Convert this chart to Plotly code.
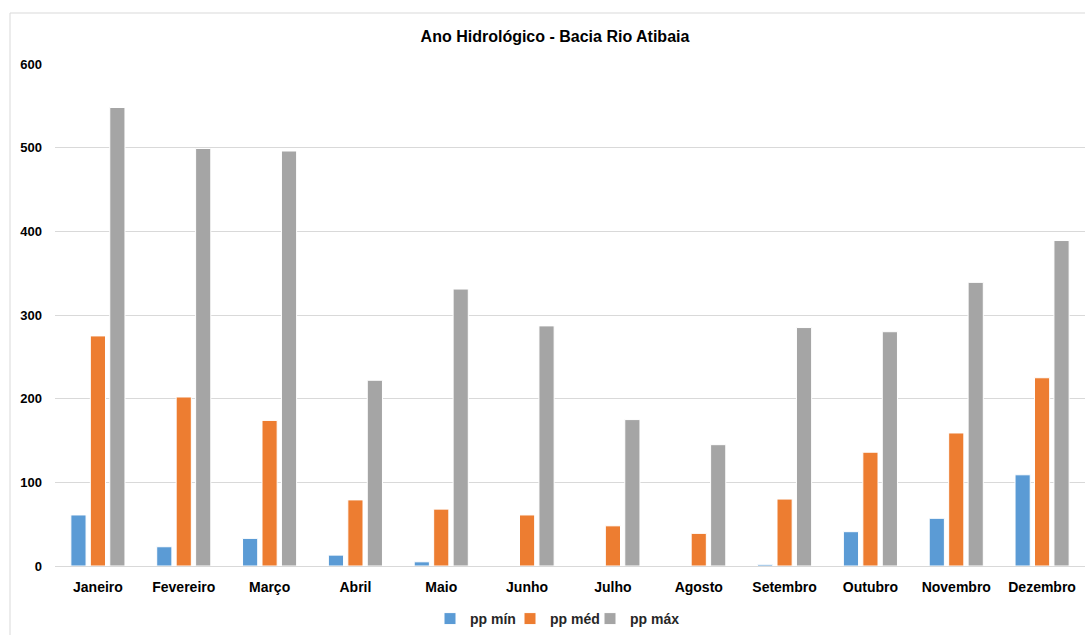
import plotly.graph_objects as go

months = ["Janeiro", "Fevereiro", "Março", "Abril", "Maio", "Junho", "Julho",
          "Agosto", "Setembro", "Outubro", "Novembro", "Dezembro"]
pp_min = [61, 23, 33, 13, 5, 0, 0, 0, 2, 41, 57, 109]
pp_med = [275, 202, 174, 79, 68, 61, 48, 39, 80, 136, 159, 225]
pp_max = [548, 499, 496, 222, 331, 287, 175, 145, 285, 280, 339, 389]

series = [("pp mín", pp_min, "#5B9BD5"),
          ("pp méd", pp_med, "#ED7D31"),
          ("pp máx", pp_max, "#A5A5A5")]

FONT = "Liberation Sans, Arial, sans-serif"

# plot area in pixels: x 55..1085, y 64..566
L, R, T, B = 55, 0, 64, 69
W, H = 1085, 635
pw, ph = W - L - R, H - T - B

def px_x(p):
    return (p - L) / pw

def px_y(p):
    return (H - B - p) / ph

legend_ids = ["legend", "legend2", "legend3"]
legend_left_px = [430, 510, 590]

fig = go.Figure()
for (name, vals, color), lid in zip(series, legend_ids):
    fig.add_trace(go.Bar(x=months, y=vals, name=f"<b>{name}</b>", legend=lid,
                         marker=dict(color=color, line=dict(color="white", width=1))))

legend_common = dict(orientation="h", xanchor="left", y=px_y(619), yanchor="middle",
                     font=dict(size=14, family=FONT, color="#262626"),
                     itemwidth=30, bgcolor="rgba(0,0,0,0)")

yt = list(range(0, 601, 100))

layout_legends = {lid: dict(x=px_x(lx), **legend_common)
                  for lid, lx in zip(legend_ids, legend_left_px)}

fig.update_layout(
    width=W, height=H,
    margin=dict(l=L, r=R, t=T, b=B, pad=0),
    paper_bgcolor="white", plot_bgcolor="white",
    barmode="group", bargap=0.32, bargroupgap=0.22,
    font=dict(family=FONT, color="#000000"),
    title=dict(text="<b>Ano Hidrológico - Bacia Rio Atibaia</b>",
               font=dict(size=16, family=FONT, color="#000000"),
               x=px_x(555), xref="paper", xanchor="center",
               y=1 - 36 / H, yanchor="middle"),
    showlegend=True,
    xaxis=dict(showline=True, linecolor="#D9D9D9", linewidth=1,
               ticks="", tickfont=dict(size=14, family=FONT, color="#000000"),
               tickvals=months, ticktext=[f"<b>{m}</b>" for m in months],
               ticklabelstandoff=8),
    yaxis=dict(range=[0, 600], showgrid=True, gridcolor="#D9D9D9",
               gridwidth=1, zeroline=False, showline=False, ticks="",
               tickvals=yt, ticktext=[f"<b>{v}</b>" for v in yt],
               tickfont=dict(size=13, family=FONT, color="#000000"),
               ticklabelstandoff=12),
    shapes=[dict(type="rect", xref="paper", yref="paper",
                 x0=px_x(10), x1=px_x(1100), y0=px_y(700), y1=px_y(13),
                 line=dict(color="#D9D9D9", width=1), fillcolor="rgba(0,0,0,0)",
                 layer="below")],
    **layout_legends,
)

fig.write_html("out.html")
